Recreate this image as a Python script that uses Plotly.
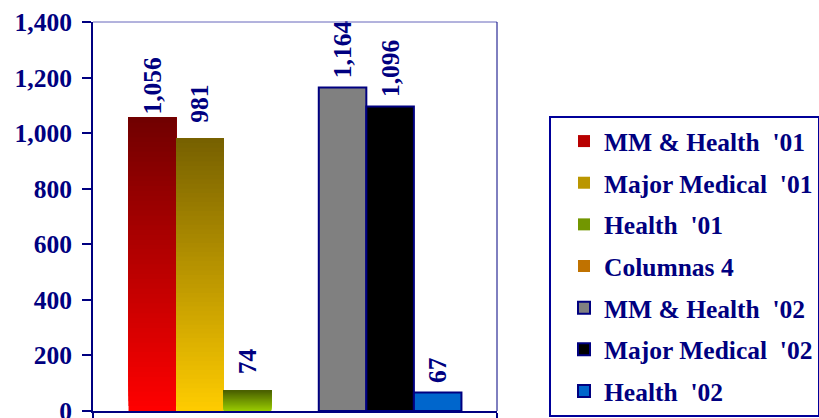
import plotly.graph_objects as go

# ---------------- data ----------------
category = [""]
series_names = [
    "MM & Health\u00a0 '01",
    "Major Medical\u00a0 '01",
    "Health\u00a0 '01",
    "Columnas 4",
    "MM & Health\u00a0 '02",
    "Major Medical\u00a0 '02",
    "Health\u00a0 '02",
]
series_values = [1056, 981, 74, 0, 1164, 1096, 67]
y_tick_values = [0, 200, 400, 600, 800, 1000, 1200, 1400]

# ---------------- styles ----------------
NAVY = "#000080"
FONT = "Liberation Serif"
FS = 25.5
# gradient (top colour, bottom colour) for the '01 series, solid fill for '02
gradients = {
    0: ((112, 0, 0), (255, 0, 0)),
    1: ((118, 96, 0), (255, 204, 0)),
    2: ((74, 96, 0), (153, 204, 0)),
    3: ((128, 76, 0), (255, 153, 0)),
}
solid = {4: "#808080", 5: "#000000", 6: "#0066CC"}
label_pad = {0: "", 1: "\u00a0\u00a0", 2: "\u00a0\u00a0", 4: "\u00a0", 5: "\u00a0", 6: "\u00a0"}

N = 60


def rgb(c):
    return "rgb(%d,%d,%d)" % tuple(int(round(v)) for v in c)


def mix(top, bottom, t):
    return tuple(b + (a - b) * t for a, b in zip(top, bottom))


fig = go.Figure()
text_font = dict(family=FONT, size=FS, color=NAVY, weight="bold")

for i, (name, v) in enumerate(zip(series_names, series_values)):
    common = dict(
        name=name,
        legendgroup="g%d" % i,
        offsetgroup="g%d" % i,
        hoverinfo="skip",
        cliponaxis=False,
        textposition="outside",
        textangle=-90,
        constraintext="none",
        textfont=text_font,
    )
    if i in gradients:
        top, bottom = gradients[i]
        # first (zero-height) point only sets the legend swatch colour
        ys, bases = [0], [0]
        cols = [rgb(mix(top, bottom, 0.5))]
        texts = [""]
        for k in range(N):
            b = v * k / N
            ys.append(v - b)
            bases.append(b)
            cols.append(rgb(mix(top, bottom, (k + 0.5) / N)))
            texts.append((label_pad.get(i, "") + f"{v:,}") if (k == N - 1 and v) else "")
        fig.add_trace(go.Bar(
            x=category * (N + 1), y=ys, base=bases, text=texts,
            marker=dict(color=cols, line=dict(width=0)),
            **common,
        ))
    else:
        fig.add_trace(go.Bar(
            x=category, y=[v], text=[label_pad.get(i, "") + f"{v:,}"],
            marker=dict(color=solid[i], line=dict(color=NAVY, width=2)),
            **common,
        ))

plot_l, plot_r, plot_t, plot_b = 93, 497, 22, 411
W, H = 819, 418

fig.update_layout(
    width=W, height=H,
    margin=dict(l=plot_l, r=W - plot_r, t=plot_t, b=H - plot_b, autoexpand=False),
    paper_bgcolor="white", plot_bgcolor="white",
    barmode="group", bargap=0.176, bargroupgap=0,
    showlegend=True,
    legend=dict(
        x=(549 - plot_l) / (plot_r - plot_l), xanchor="left",
        y=(plot_b - 116) / (plot_b - plot_t), yanchor="top",
        bordercolor="#000099", borderwidth=2, bgcolor="white",
        font=dict(family=FONT, size=FS, color=NAVY, weight="bold"),
        tracegroupgap=5.5, indentation=13,
    ),
    shapes=[
        dict(type="line", xref="paper", yref="paper", x0=0, x1=1, y0=1, y1=1,
             line=dict(color="#6666BB", width=1)),
        dict(type="line", xref="paper", yref="paper", x0=1, x1=1, y0=0, y1=1,
             line=dict(color=NAVY, width=1)),
    ],
)

fig.update_yaxes(
    range=[0, 1400], tickvals=y_tick_values, tickformat=",",
    showgrid=False, zeroline=False,
    showline=True, linecolor=NAVY, linewidth=2,
    ticks="outside", ticklen=9, tickwidth=2, tickcolor=NAVY,
    ticklabelstandoff=5, ticklabeloverflow="allow",
    tickfont=dict(family=FONT, size=FS, color=NAVY, weight="bold"),
)
fig.update_xaxes(
    showgrid=False, zeroline=False, showticklabels=False,
    showline=True, linecolor=NAVY, linewidth=2,
    ticks="outside", tickson="boundaries", ticklen=8, tickwidth=2, tickcolor=NAVY,
)

fig.write_html("out.html")
